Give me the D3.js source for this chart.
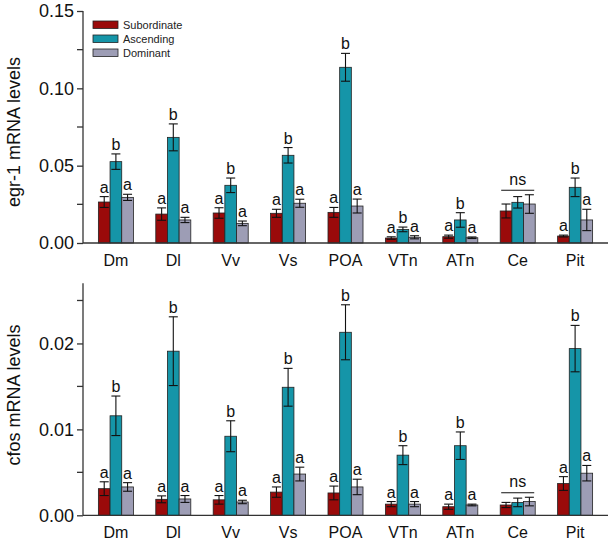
<!DOCTYPE html>
<html>
<head>
<meta charset="utf-8">
<script src="https://cdn.jsdelivr.net/npm/d3@7"></script>
<style>
  body { margin: 0; background: #fff; }
  svg { font-family: Arial, "Liberation Sans", sans-serif; }
</style>
</head>
<body>
<div id="chart"></div>
<script>
// brain regions on the x axis
var regions = ["Dm", "Dl", "Vv", "Vs", "POA", "VTn", "ATn", "Ce", "Pit"];
var groups = ["Subordinate", "Ascending", "Dominant"];
var colors = ["#9a0a0a", "#1595a8", "#9d9db5"];

// egr-1 panel
var egr1Sub = [0.0265, 0.0187, 0.0194, 0.0192, 0.0198, 0.0032, 0.0041, 0.0207, 0.0045];
var egr1SubErr = [0.0035, 0.0040, 0.0034, 0.0026, 0.0032, 0.0008, 0.0010, 0.0045, 0.0006];
var egr1Asc = [0.0526, 0.0683, 0.0373, 0.0567, 0.1136, 0.0088, 0.0149, 0.0263, 0.0360];
var egr1AscErr = [0.0050, 0.0087, 0.0047, 0.0050, 0.0090, 0.0015, 0.0047, 0.0037, 0.0060];
var egr1Dom = [0.0295, 0.0149, 0.0127, 0.0257, 0.0239, 0.0037, 0.0034, 0.0252, 0.0149];
var egr1DomErr = [0.0020, 0.0017, 0.0015, 0.0026, 0.0045, 0.0010, 0.0005, 0.0060, 0.0069];
var egr1Ticks = [0, 0.05, 0.10, 0.15];
var egr1Minor = [0.025, 0.075, 0.125];

// cfos panel
var cfosSub = [0.0031, 0.00186, 0.0018, 0.0027, 0.0026, 0.0013, 0.0010, 0.0012, 0.0037];
var cfosSubErr = [0.0008, 0.0004, 0.0005, 0.0006, 0.0008, 0.0003, 0.0003, 0.0003, 0.0008];
var cfosAsc = [0.01158, 0.0191, 0.0092, 0.0149, 0.0213, 0.0070, 0.0081, 0.0015, 0.0194];
var cfosAscErr = [0.0023, 0.0040, 0.0018, 0.0022, 0.0032, 0.0011, 0.0016, 0.0005, 0.0027];
var cfosDom = [0.0033, 0.0019, 0.00155, 0.0048, 0.0033, 0.0013, 0.0012, 0.0016, 0.0049];
var cfosDomErr = [0.0005, 0.0004, 0.0002, 0.0008, 0.0009, 0.0003, 0.0001, 0.0005, 0.0009];
var cfosTicks = [0, 0.01, 0.02];
var cfosMinor = [0.005, 0.015, 0.025];

// significance letters per group (null = "ns" bracket)
var letters = [["a","b","a"], ["a","b","a"], ["a","b","a"], ["a","b","a"], ["a","b","a"],
               ["a","b","a"], ["a","b","a"], null, ["a","b","a"]];

var svg = d3.select("#chart").append("svg")
    .attr("width", 614)
    .attr("height", 544);

var x0 = d3.scaleBand().domain(regions).range([83, 608]).paddingInner(0.39).paddingOuter(0.268);
var x1 = d3.scaleBand().domain(groups).range([0, x0.bandwidth()]);

function drawPanel(cfg) {
    var y = d3.scaleLinear().domain(cfg.domain).range([cfg.bottom, cfg.top]);
    var g = svg.append("g");

    var rows = regions.map(function (r, i) {
        return {
            region: r, idx: i,
            vals: [cfg.sub[i], cfg.asc[i], cfg.dom[i]],
            errs: [cfg.subErr[i], cfg.ascErr[i], cfg.domErr[i]]
        };
    });

    var grp = g.selectAll(".grp").data(rows).enter().append("g")
        .attr("transform", function (d) { return "translate(" + x0(d.region) + ",0)"; });

    var cells = grp.selectAll(".cell")
        .data(function (d) {
            return groups.map(function (s, k) {
                return { s: s, k: k, v: d.vals[k], e: d.errs[k], idx: d.idx };
            });
        })
        .enter().append("g");

    cells.append("rect")
        .attr("x", function (d) { return x1(d.s); })
        .attr("y", function (d) { return y(d.v); })
        .attr("width", x1.bandwidth())
        .attr("height", function (d) { return y(0) - y(d.v); })
        .attr("fill", function (d) { return colors[d.k]; })
        .attr("stroke", "#222")
        .attr("stroke-width", 0.8);

    // error bars
    cells.append("line")
        .attr("x1", function (d) { return x1(d.s) + x1.bandwidth() / 2; })
        .attr("x2", function (d) { return x1(d.s) + x1.bandwidth() / 2; })
        .attr("y1", function (d) { return y(d.v - d.e); })
        .attr("y2", function (d) { return y(d.v + d.e); })
        .attr("stroke", "#111").attr("stroke-width", 1.1);
    [-1, 1].forEach(function (sgn) {
        cells.append("line")
            .attr("x1", function (d) { return x1(d.s) + x1.bandwidth() / 2 - 4.5; })
            .attr("x2", function (d) { return x1(d.s) + x1.bandwidth() / 2 + 4.5; })
            .attr("y1", function (d) { return y(d.v + sgn * d.e); })
            .attr("y2", function (d) { return y(d.v + sgn * d.e); })
            .attr("stroke", "#111").attr("stroke-width", 1.1);
    });

    // letters
    cells.filter(function (d) { return letters[d.idx] !== null; })
        .append("text")
        .attr("x", function (d) { return x1(d.s) + x1.bandwidth() / 2; })
        .attr("y", function (d) { return y(d.v + d.e) - 4; })
        .attr("text-anchor", "middle")
        .attr("font-size", 16)
        .attr("fill", "#111")
        .text(function (d) { return letters[d.idx][d.k]; });

    // ns bracket
    grp.filter(function (d) { return letters[d.idx] === null; })
        .each(function (d) {
            var top = d3.min(d.vals.map(function (v, k) { return y(v + d.errs[k]); }));
            var sel = d3.select(this);
            sel.append("line")
                .attr("x1", x1(groups[0]) + 1).attr("x2", x1(groups[2]) + x1.bandwidth() - 1)
                .attr("y1", top - 4.5).attr("y2", top - 4.5)
                .attr("stroke", "#111").attr("stroke-width", 1.1);
            sel.append("text")
                .attr("x", x0.bandwidth() / 2)
                .attr("y", top - 10)
                .attr("text-anchor", "middle")
                .attr("font-size", 16)
                .attr("fill", "#111")
                .text("ns");
        });

    // y axis
    var yAxis = d3.axisLeft(y).tickValues(cfg.ticks).tickSize(6).tickPadding(3)
        .tickFormat(cfg.fmt);
    var ax = g.append("g").attr("transform", "translate(83,0)").call(yAxis);
    ax.select(".domain").attr("stroke", "#333").attr("stroke-width", 1.3)
        .attr("d", "M0," + cfg.bottom + "V" + cfg.top);
    ax.selectAll(".tick line").attr("stroke", "#333").attr("stroke-width", 1.3);
    ax.selectAll(".tick text").attr("font-size", 18).attr("fill", "#111")
        .attr("font-family", "Arial, 'Liberation Sans', sans-serif");
    ax.selectAll(".minor").data(cfg.minor).enter().append("line")
        .attr("x1", -6).attr("x2", 0)
        .attr("y1", function (d) { return y(d); })
        .attr("y2", function (d) { return y(d); })
        .attr("stroke", "#333").attr("stroke-width", 1.3);

    // x axis line + labels
    g.append("line")
        .attr("x1", 83).attr("x2", 608)
        .attr("y1", cfg.bottom).attr("y2", cfg.bottom)
        .attr("stroke", "#333").attr("stroke-width", 1.3);
    g.selectAll(".xl").data(regions).enter().append("text")
        .attr("x", function (d) { return x0(d) + x0.bandwidth() / 2; })
        .attr("y", cfg.bottom + 22.5)
        .attr("text-anchor", "middle")
        .attr("font-size", 16)
        .attr("fill", "#111")
        .text(function (d) { return d; });

    // y title
    g.append("text")
        .attr("transform", "translate(20," + cfg.titleY + ") rotate(-90)")
        .attr("text-anchor", "middle")
        .attr("font-size", 18)
        .attr("fill", "#111")
        .text(cfg.title);
}

drawPanel({
    domain: [0, 0.15], top: 11, bottom: 243,
    sub: egr1Sub, subErr: egr1SubErr, asc: egr1Asc, ascErr: egr1AscErr, dom: egr1Dom, domErr: egr1DomErr,
    ticks: egr1Ticks, minor: egr1Minor, fmt: d3.format(".2f"),
    title: "egr-1 mRNA levels", titleY: 132
});

drawPanel({
    domain: [0, 0.027], top: 283.3, bottom: 515.3,
    sub: cfosSub, subErr: cfosSubErr, asc: cfosAsc, ascErr: cfosAscErr, dom: cfosDom, domErr: cfosDomErr,
    ticks: cfosTicks, minor: cfosMinor, fmt: d3.format(".2f"),
    title: "cfos mRNA levels", titleY: 395
});

// legend
var legend = svg.append("g").attr("transform", "translate(93,21)");
var li = legend.selectAll("g").data(groups).enter().append("g")
    .attr("transform", function (d, i) { return "translate(0," + (i * 14) + ")"; });
li.append("rect")
    .attr("width", 25).attr("height", 7.5)
    .attr("fill", function (d, i) { return colors[i]; })
    .attr("stroke", "#222").attr("stroke-width", 0.8);
li.append("text")
    .attr("x", 30).attr("y", 7.5)
    .attr("font-size", 11)
    .attr("fill", "#222")
    .text(function (d) { return d; });
</script>
</body>
</html>
